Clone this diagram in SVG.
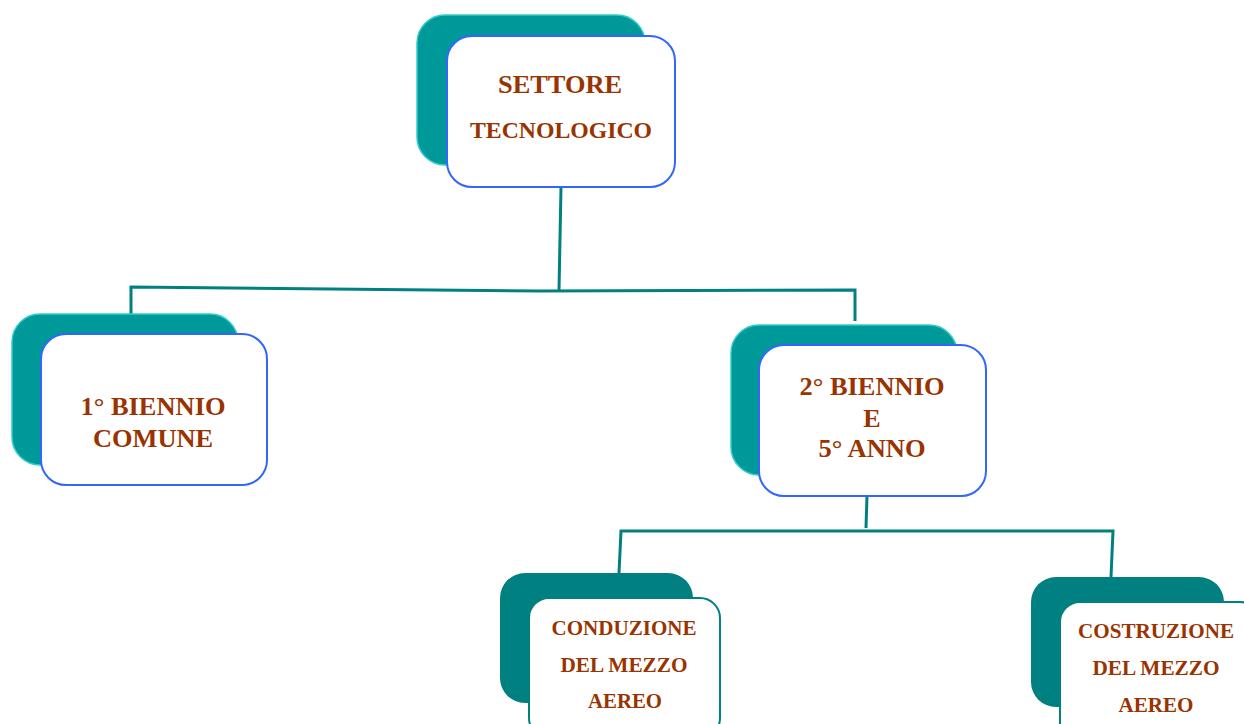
<svg xmlns="http://www.w3.org/2000/svg" width="1244" height="724" viewBox="0 0 1244 724">
<defs>
<style>
.back{fill:#009999;stroke:#33cccc;stroke-width:1.5}
.back2{fill:#008080;stroke:none}
.front{fill:#ffffff;stroke:#3366ff;stroke-width:2}
.front2{fill:#ffffff;stroke:#008080;stroke-width:2}
.t{font-family:"Liberation Serif","Times New Roman",serif;font-weight:bold;fill:#993300;text-anchor:middle}
.conn{stroke:#008080;stroke-width:3;fill:none}
</style>
</defs>
<rect width="1244" height="724" fill="#ffffff"/>
<g id="connectors">
<polyline class="conn" points="561,187 559,290"/>
<polyline class="conn" points="131,315 131,287 540,291 855,290 855,321"/>
<polyline class="conn" points="867,496 866,528"/>
<polyline class="conn" points="619,573 621,531 1113,531 1111,577"/>
</g>
<g id="node-settore">
<rect class="back" x="417" y="15" width="228" height="150" rx="28"/>
<rect class="front" x="447" y="36" width="228" height="151" rx="25"/>
<text class="t" x="560" y="93" font-size="26" textLength="124" lengthAdjust="spacingAndGlyphs">SETTORE</text>
<text class="t" x="561" y="138" font-size="24" textLength="182" lengthAdjust="spacingAndGlyphs">TECNOLOGICO</text>
</g>
<g id="node-biennio1">
<rect class="back" x="12" y="314" width="226" height="151" rx="28"/>
<rect class="front" x="41" y="334" width="226" height="151" rx="25"/>
<text class="t" x="153" y="415" font-size="26" textLength="145" lengthAdjust="spacingAndGlyphs">1° BIENNIO</text>
<text class="t" x="153" y="447" font-size="26" textLength="120" lengthAdjust="spacingAndGlyphs">COMUNE</text>
</g>
<g id="node-biennio2">
<rect class="back" x="731" y="325" width="226" height="150" rx="28"/>
<rect class="front" x="759" y="345" width="227" height="151" rx="25"/>
<text class="t" x="872" y="395" font-size="26" textLength="145" lengthAdjust="spacingAndGlyphs">2° BIENNIO</text>
<text class="t" x="872" y="427" font-size="26">E</text>
<text class="t" x="872" y="457" font-size="26" textLength="107" lengthAdjust="spacingAndGlyphs">5° ANNO</text>
</g>
<g id="node-conduzione">
<rect class="back2" x="500" y="573" width="193" height="130" rx="25"/>
<rect class="front2" x="529" y="598" width="191" height="140" rx="20"/>
<text class="t" x="624" y="635" font-size="21" textLength="145" lengthAdjust="spacingAndGlyphs">CONDUZIONE</text>
<text class="t" x="624" y="672" font-size="21" textLength="127" lengthAdjust="spacingAndGlyphs">DEL MEZZO</text>
<text class="t" x="625" y="708" font-size="21" textLength="74" lengthAdjust="spacingAndGlyphs">AEREO</text>
</g>
<g id="node-costruzione">
<rect class="back2" x="1031" y="577" width="193" height="130" rx="25"/>
<rect class="front2" x="1060" y="602" width="200" height="140" rx="20"/>
<text class="t" x="1156" y="638" font-size="21" textLength="156" lengthAdjust="spacingAndGlyphs">COSTRUZIONE</text>
<text class="t" x="1156" y="675" font-size="21" textLength="127" lengthAdjust="spacingAndGlyphs">DEL MEZZO</text>
<text class="t" x="1156" y="712" font-size="21" textLength="75" lengthAdjust="spacingAndGlyphs">AEREO</text>
</g>
</svg>
